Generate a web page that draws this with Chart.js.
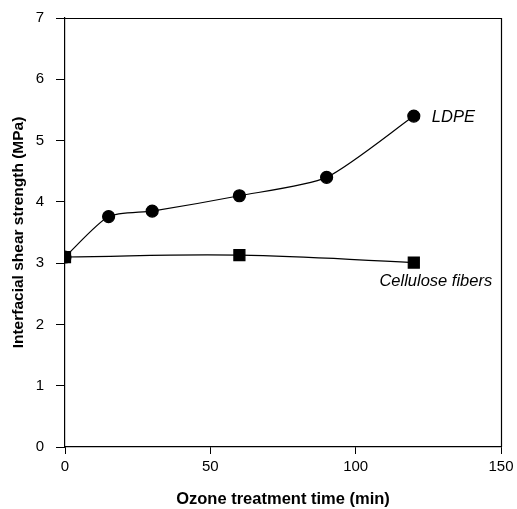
<!DOCTYPE html>
<html>
<head>
<meta charset="utf-8">
<script src="https://cdn.jsdelivr.net/npm/chart.js@4/dist/chart.umd.min.js"></script>
<style>
html,body{margin:0;padding:0;background:#fff;}
#wrap{width:517px;height:509px;position:relative;}
</style>
</head>
<body>
<div id="wrap"><canvas id="c" width="517" height="509"></canvas></div>
<script>
const ldpeTime = [0, 15, 30, 60, 90, 120];
const ldpeStrength = [3.10, 3.76, 3.85, 4.10, 4.40, 5.40];
const celluloseTime = [0, 60, 120];
const celluloseStrength = [3.10, 3.13, 3.01];
const seriesNames = ['LDPE', 'Cellulose fibers'];
const xTicks = [0, 50, 100, 150];
const yTicks = [0, 1, 2, 3, 4, 5, 6, 7];
const xTitle = 'Ozone treatment time (min)';
const yTitle = 'Interfacial shear strength (MPa)';

const FONT = '"Liberation Sans", Arial, sans-serif';

const toPts = (xs, ys) => xs.map((x, i) => ({x: x, y: ys[i]}));

const labelPlugin = {
  id: 'seriesLabels',
  afterDatasetsDraw(chart) {
    const ctx = chart.ctx;
    const xs = chart.scales.x, ys = chart.scales.y;
    const a = chart.chartArea;
    ctx.save();
    ctx.strokeStyle = '#000';
    ctx.lineWidth = 1.2;
    ctx.beginPath();
    ctx.moveTo(a.left, a.top + 0.5);
    ctx.lineTo(a.right + 0.5, a.top + 0.5);
    ctx.lineTo(a.right + 0.5, a.bottom);
    ctx.stroke();
    ctx.fillStyle = '#000';
    ctx.font = 'italic 16.5px ' + FONT;
    const li = ldpeTime.length - 1;
    ctx.textAlign = 'left';
    ctx.textBaseline = 'middle';
    ctx.fillText(seriesNames[0], xs.getPixelForValue(ldpeTime[li]) + 18, ys.getPixelForValue(ldpeStrength[li]) + 1);
    const ci = celluloseTime.length - 1;
    ctx.textAlign = 'center';
    ctx.fillText(seriesNames[1], xs.getPixelForValue(celluloseTime[ci]) + 22, ys.getPixelForValue(celluloseStrength[ci]) + 19);
    ctx.restore();
  }
};

new Chart(document.getElementById('c'), {
  type: 'scatter',
  data: {
    datasets: [
      {
        label: seriesNames[0],
        data: toPts(ldpeTime, ldpeStrength),
        showLine: true,
        borderColor: '#000',
        backgroundColor: '#000',
        borderWidth: 1.2,
        pointStyle: 'circle',
        pointRadius: 6,
        pointHoverRadius: 6,
        tension: 0.22
      },
      {
        label: seriesNames[1],
        data: toPts(celluloseTime, celluloseStrength),
        showLine: true,
        borderColor: '#000',
        backgroundColor: '#000',
        borderWidth: 1.2,
        pointStyle: 'rect',
        pointRadius: 7.8,
        pointHoverRadius: 7.8,
        tension: 0.4
      }
    ]
  },
  options: {
    responsive: false,
    animation: false,
    devicePixelRatio: 1,
    layout: {padding: {top: 18, right: 16, bottom: 0, left: 0}},
    plugins: {legend: {display: false}, tooltip: {enabled: false}},
    scales: {
      x: {
        type: 'linear',
        min: 0, max: 150,
        afterBuildTicks(s) { s.ticks = xTicks.map(v => ({value: v})); },
        afterFit(s) { s.height = 62; s.paddingLeft = 0; s.paddingRight = 0; },
        grid: {display: true, drawOnChartArea: false, drawTicks: true, tickLength: 7, color: '#000', lineWidth: 1},
        border: {display: true, color: '#000', width: 1.2},
        ticks: {color: '#000', font: {family: FONT, size: 15}, padding: 4, maxRotation: 0},
        title: {display: true, text: xTitle, color: '#000', font: {family: FONT, size: 16.5, weight: 'bold'}, padding: {top: 8, bottom: 0}}
      },
      y: {
        type: 'linear',
        min: 0, max: 7,
        afterBuildTicks(s) { s.ticks = yTicks.map(v => ({value: v})); },
        afterFit(s) { s.width = 65; s.paddingTop = 0; s.paddingBottom = 0; },
        grid: {display: true, drawOnChartArea: false, drawTicks: true, tickLength: 9, color: '#000', lineWidth: 1},
        border: {display: true, color: '#000', width: 1.2},
        ticks: {color: '#000', font: {family: FONT, size: 15}, padding: 12},
        title: {display: true, text: yTitle, color: '#000', font: {family: FONT, size: 15.5, weight: 'bold'}, padding: {top: 9, bottom: 0}}
      }
    }
  },
  plugins: [labelPlugin]
});
</script>
</body>
</html>
